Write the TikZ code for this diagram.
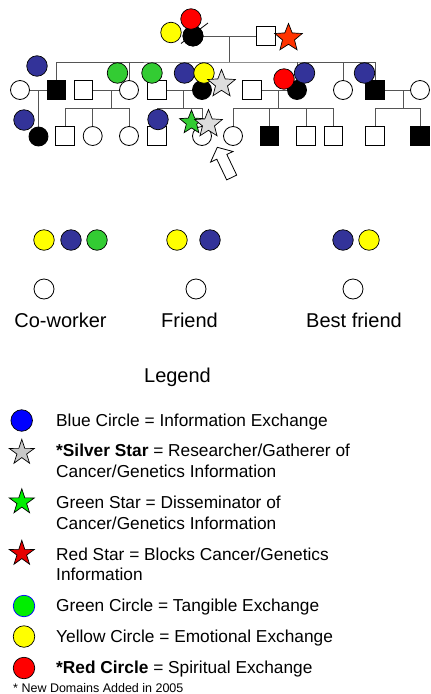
\documentclass[tikz,border=0pt]{standalone}
\usepackage{fontspec}
\setmainfont{Liberation Sans}
\usetikzlibrary{shapes.geometric}
\pgfdeclarelayer{background}
\pgfsetlayers{background,main}

\definecolor{navy}{HTML}{333399}
\definecolor{leafgreen}{HTML}{33CC33}
\definecolor{sunyellow}{HTML}{FFFF00}
\definecolor{spiritred}{HTML}{FF0000}
\definecolor{blockred}{HTML}{FF3300}
\definecolor{paleSilver}{HTML}{DDDDDD}
\definecolor{linegray}{HTML}{555555}
\definecolor{keyblue}{HTML}{0000FF}
\definecolor{keygreen}{HTML}{00EE00}
\definecolor{keysilver}{HTML}{C8C8C8}
\definecolor{keyred}{HTML}{E60000}

\tikzset{
  link/.style={draw=linegray, line width=1pt},
  person/.style={draw=black, line width=0.8pt, fill=white, inner sep=0pt},
  male/.style={person, rectangle, minimum size=18.5pt},
  female/.style={person, circle, minimum size=19pt},
  affected/.style={fill=black},
  tie/.style={circle, draw=black, line width=0.7pt, minimum size=20.5pt, inner sep=0pt},
  info/.style={tie, fill=navy},
  emo/.style={tie, fill=sunyellow},
  tang/.style={tie, fill=leafgreen},
  spirit/.style={tie, fill=spiritred},
  starmark/.style={star, star points=5, star point ratio=2.3, draw=black,
    line width=0.7pt, inner sep=0pt, minimum size=29pt},
  keystar/.style={star, star points=5, star point ratio=2.6, draw=black,
    line width=0.7pt, inner sep=0pt, minimum size=26.5pt},
  keydot/.style={circle, draw=black, line width=0.7pt, minimum size=21.5pt, inner sep=0pt},
  bigtext/.style={font=\fontsize{20}{24}\selectfont, inner sep=0pt},
  keytext/.style={font=\fontsize{17.3}{20.7}\selectfont, inner sep=0pt, anchor=base west},
  notetext/.style={font=\fontsize{12.5}{15}\selectfont, inner sep=0pt, anchor=base west}
}

\begin{document}
\begin{tikzpicture}[x=1pt, y=-1pt]
\useasboundingbox (0,0) rectangle (431,694);

% ---------- first generation ----------
\node[female, affected, minimum size=20pt] (gm) at (193,36) {};
\node[male, minimum size=19pt] (gf) at (265.5,36) {};
\draw[line width=0.8pt] (181,43.5) -- (208,23);

% ---------- second generation ----------
\node[female] (a1) at (20,90) {};
\node[male, affected] (a2) at (56.5,90) {};
\node[male] (b1) at (83.5,90) {};
\node[female] (b2) at (129,90) {};
\node[male] (c1) at (157,90) {};
\node[female, affected] (c2) at (202,90) {};
\node[male] (d1) at (252,90) {};
\node[female, affected] (d2) at (297,90) {};
\node[female] (e1) at (343,90) {};
\node[male, affected] (f1) at (375,90) {};
\node[female] (f2) at (420,90) {};

% ---------- third generation ----------
\node[female, affected] (a3) at (38.5,136.5) {};
\node[male] (b3) at (65,136) {};
\node[female] (b4) at (92.7,136) {};
\node[female] (b5) at (129,136) {};
\node[male] (c3) at (157,136) {};
\node[female] (c4) at (202,136) {};
\node[female] (d3) at (233,136) {};
\node[male, affected] (d4) at (269.5,136) {};
\node[male] (d5) at (306,136) {};
\node[male] (d6) at (333.5,136) {};
\node[male] (f3) at (375,136) {};
\node[male, affected] (f4) at (420,136) {};

% ---------- pedigree lines ----------
\coordinate (m0) at (229,36);
\coordinate (s0) at (229,62);
\coordinate (ma) at (38.5,90);
\coordinate (mb) at (111,90);
\coordinate (sb) at (111,108.5);
\coordinate (mc) at (183,90);
\coordinate (sc) at (183,108.5);
\coordinate (md) at (278,90);
\coordinate (sd) at (278,108.5);
\coordinate (mf) at (403,90);
\coordinate (sf) at (403,108.5);
\begin{pgfonlayer}{background}
  \fill[white] (0,0) rectangle (431,694);
  \draw[link] (gm) -- (gf);
  \draw[link] (m0) -- (s0);
  \draw[link] (a2.north) |- (s0) -| (f1.north);
  \foreach \k in {b2,c2,d2,e1} \draw[link] (\k.north) -- (\k.north |- s0);
  \draw[link] (a1) -- (a2);
  \draw[link] (b1) -- (b2);
  \draw[link] (c1) -- (c2);
  \draw[link] (d1) -- (d2);
  \draw[link] (f1) -- (f2);
  \draw[link] (ma) -- (a3.north);
  \draw[link] (mb) -- (sb);
  \draw[link] (b3.north) |- (sb) -| (b5.north);
  \draw[link] (b4.north) -- (b4.north |- sb);
  \draw[link] (mc) -- (sc);
  \draw[link] (c3.north) |- (sc) -| (c4.north);
  \draw[link] (md) -- (sd);
  \draw[link] (d3.north) |- (sd) -| (d6.north);
  \foreach \k in {d4,d5} \draw[link] (\k.north) -- (\k.north |- sd);
  \draw[link] (mf) -- (sf);
  \draw[link] (f3.north) |- (sf) -| (f4.north);
\end{pgfonlayer}

% ---------- exchange marks on the pedigree ----------
\node[emo] (t1) at (171,32.5) {};
\node[female, affected, minimum size=20pt] at (gm) {};
\node[spirit] (t2) at (191,19) {};
\node[starmark, fill=blockred] (r1) at (288.5,38) {};

\node[info] (t3) at (37,66) {};
\node[tang] (t4) at (117.5,73) {};
\node[tang] (t5) at (152,73) {};
\node[info] (t6) at (184.5,73) {};
\node[emo] (t7) at (204,73) {};
\node[starmark, fill=paleSilver] (g1) at (221.5,84) {};
\node[spirit] (t8) at (284,79) {};
\node[info] (t9) at (304.5,73) {};
\node[info] (t10) at (364.5,73) {};

\node[info] (t11) at (24,120) {};
\node[info] (t12) at (158,119.5) {};
\node[starmark, fill=leafgreen, minimum size=25pt] (g2) at (191.5,122.5) {};
\node[starmark, fill=paleSilver] (g3) at (208.5,124) {};

% pointer to the index person
\draw[line width=0.8pt, fill=white]
  (217.3,147.3) -- (233.0,151.5) -- (226.8,154.4) -- (236.7,175.1)
  -- (226.7,179.9) -- (216.8,159.2) -- (210.6,162.1) -- cycle;

% ---------- social network ----------
\node[emo] (w1) at (44,240) {};
\node[info] (w2) at (71,240) {};
\node[tang] (w3) at (97,240) {};
\node[female, minimum size=20pt] (cw) at (44,289) {};
\node[bigtext, anchor=base] at (60.5,327) {Co-worker};

\node[emo] (w4) at (177,240) {};
\node[info] (w5) at (210,240) {};
\node[female, minimum size=20pt] (fr) at (196,289) {};
\node[bigtext, anchor=base] at (189.5,327) {Friend};

\node[info] (w6) at (343,240) {};
\node[emo] (w7) at (369,240) {};
\node[female, minimum size=20pt] (bf) at (353,289) {};
\node[bigtext, anchor=base] at (354,327) {Best friend};

% ---------- legend ----------
\node[bigtext, anchor=base] at (177.5,382) {Legend};

\node[keydot, fill=keyblue] at (21.7,420.5) {};
\node[keytext] at (56,426) {Blue Circle = Information Exchange};

\node[keystar, fill=keysilver] at (21.8,452.5) {};
\node[keytext] at (56,456.7) {\textbf{*Silver Star} = Researcher/Gatherer of};
\node[keytext] at (56,477.4) {Cancer/Genetics Information};

\node[keystar, fill=keygreen] at (21.8,502) {};
\node[keytext] at (56,508.3) {Green Star = Disseminator of};
\node[keytext] at (56,529) {Cancer/Genetics Information};

\node[keystar, fill=keyred] at (21.8,553.5) {};
\node[keytext] at (56,560) {Red Star = Blocks Cancer/Genetics};
\node[keytext] at (56,580.7) {Information};

\node[keydot, draw=keyblue, fill=keygreen] at (24,606) {};
\node[keytext] at (56,611.7) {Green Circle = Tangible Exchange};

\node[keydot, fill=sunyellow] at (24,636.5) {};
\node[keytext] at (56,642.3) {Yellow Circle = Emotional Exchange};

\node[keydot, fill=spiritred] at (24,668) {};
\node[keytext] at (56,673.3) {\textbf{*Red Circle} = Spiritual Exchange};

\node[notetext] at (13,692) {* New Domains Added in 2005};
\end{tikzpicture}
\end{document}
